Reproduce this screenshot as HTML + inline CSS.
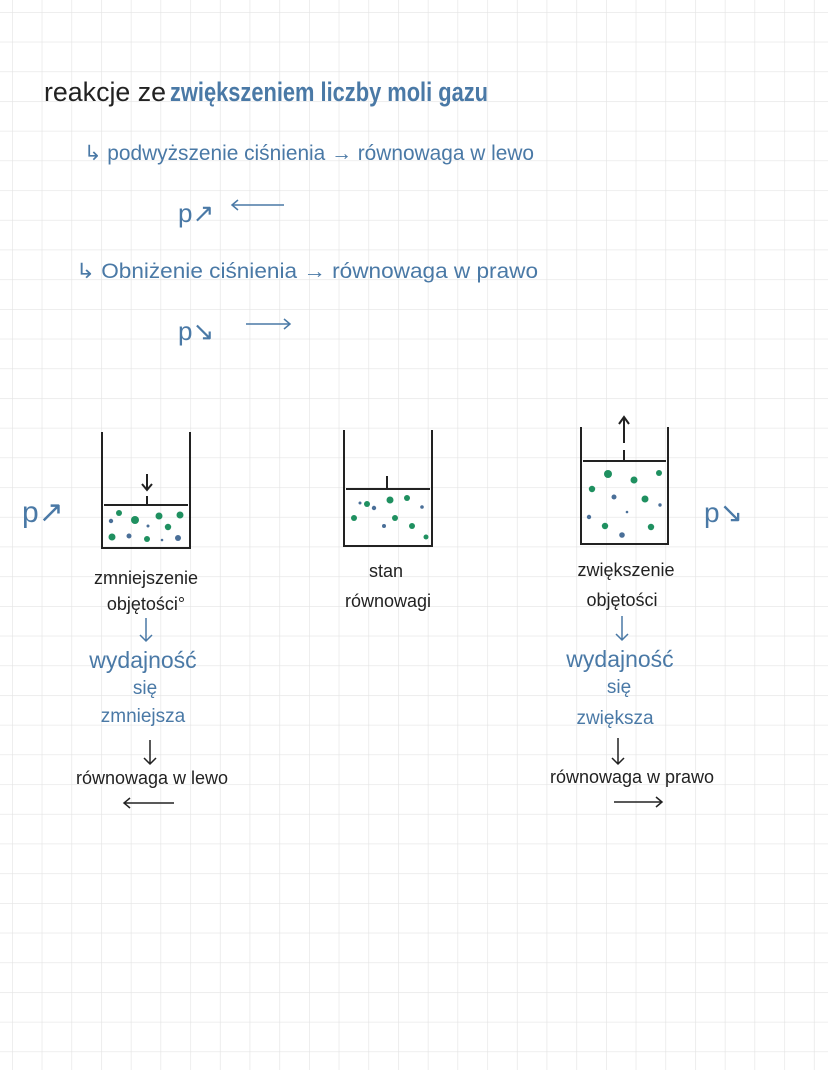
<!DOCTYPE html>
<html><head><meta charset="utf-8"><style>
html,body{margin:0;padding:0;background:#fff}
svg{display:block}
text{font-family:"Liberation Sans",sans-serif}
.b{fill:#4a79a6}
.k{fill:#222}
</style></head><body>
<svg width="828" height="1070" viewBox="0 0 828 1070" xmlns="http://www.w3.org/2000/svg">
<defs>
<pattern id="g" x="12" y="12" width="29.7" height="29.7" patternUnits="userSpaceOnUse">
<path d="M0 0H29.7M0 0V29.7" stroke="#e4e4e4" stroke-width="1.3" fill="none"/>
</pattern>
</defs>
<rect width="828" height="1070" fill="#fff"/>
<rect width="828" height="1070" fill="url(#g)"/>

<text x="44" y="101" font-size="27" class="k" textLength="122" lengthAdjust="spacingAndGlyphs">reakcje ze</text>
<text x="170" y="101" font-size="27" class="b" font-weight="bold" textLength="318" lengthAdjust="spacingAndGlyphs">zwiększeniem liczby moli gazu</text>

<text x="84" y="160" font-size="21" class="b" textLength="450" lengthAdjust="spacingAndGlyphs">↳ podwyższenie ciśnienia → równowaga w lewo</text>
<text x="178" y="222" font-size="26" class="b">p↗</text>
<path d="M232 205H284" stroke="#4a79a6" stroke-width="1.5"/><path d="M238 200L232 205L238 210" stroke="#4a79a6" stroke-width="1.5" fill="none"/>

<text x="76" y="278" font-size="21" class="b" textLength="462" lengthAdjust="spacingAndGlyphs">↳ Obniżenie ciśnienia → równowaga  w  prawo</text>
<text x="178" y="340" font-size="26" class="b">p↘</text>
<path d="M246 324H290" stroke="#4a79a6" stroke-width="1.5"/><path d="M284 319L290 324L284 329" stroke="#4a79a6" stroke-width="1.5" fill="none"/>

<text x="22" y="522" font-size="30" class="b">p↗</text>
<text x="704" y="522" font-size="28" class="b">p↘</text>

<g stroke="#222" stroke-width="2" fill="none">
<path d="M102 432V548H190V432"/><path d="M104 505H188"/><path d="M147 505V496"/><path d="M147 474V490M142 484L147 490L152 484"/>
<path d="M344 430V546H432V430"/><path d="M346 489H430"/><path d="M387 489V476"/>
<path d="M581 427V544H668V427"/><path d="M583 461H666"/><path d="M624 461V450"/><path d="M624 443V418M619 424L624 417L629 424"/>
</g>
<g fill="#1f9060">
<circle cx="119" cy="513" r="3"/><circle cx="135" cy="520" r="4"/><circle cx="159" cy="516" r="3.5"/><circle cx="180" cy="515" r="3.5"/><circle cx="112" cy="537" r="3.5"/><circle cx="147" cy="539" r="3"/><circle cx="168" cy="527" r="3.2"/>
<circle cx="390" cy="500" r="3.5"/><circle cx="407" cy="498" r="3"/><circle cx="354" cy="518" r="3"/><circle cx="367" cy="504" r="3"/><circle cx="395" cy="518" r="3"/><circle cx="412" cy="526" r="3"/><circle cx="426" cy="537" r="2.5"/>
<circle cx="608" cy="474" r="4"/><circle cx="634" cy="480" r="3.5"/><circle cx="659" cy="473" r="3"/><circle cx="592" cy="489" r="3.2"/><circle cx="645" cy="499" r="3.5"/><circle cx="605" cy="526" r="3.2"/><circle cx="651" cy="527" r="3.2"/>
</g>
<g fill="#4a6f98">
<circle cx="111" cy="521" r="2.2"/><circle cx="129" cy="536" r="2.5"/><circle cx="178" cy="538" r="3"/><circle cx="148" cy="526" r="1.5"/><circle cx="162" cy="540" r="1.3"/>
<circle cx="374" cy="508" r="2.2"/><circle cx="384" cy="526" r="2"/><circle cx="422" cy="507" r="1.8"/><circle cx="360" cy="503" r="1.5"/>
<circle cx="614" cy="497" r="2.5"/><circle cx="660" cy="505" r="1.7"/><circle cx="589" cy="517" r="2.2"/><circle cx="622" cy="535" r="2.8"/><circle cx="627" cy="512" r="1.3"/>
</g>

<text x="146" y="584" font-size="18" class="k" text-anchor="middle">zmniejszenie</text>
<text x="146" y="610" font-size="18" class="k" text-anchor="middle">objętości°</text>
<path d="M146 618V641M140 635L146 641L152 635" stroke="#4a79a6" stroke-width="1.5" fill="none"/>
<text x="143" y="668" font-size="23" class="b" text-anchor="middle">wydajność</text>
<text x="145" y="694" font-size="19" class="b" text-anchor="middle">się</text>
<text x="143" y="722" font-size="19" class="b" text-anchor="middle">zmniejsza</text>
<path d="M150 740V764M144 758L150 764L156 758" stroke="#222" stroke-width="1.5" fill="none"/>
<text x="152" y="784" font-size="18" class="k" text-anchor="middle">równowaga w lewo</text>
<path d="M124 803H174M130 798L124 803L130 808" stroke="#222" stroke-width="1.5" fill="none"/>

<text x="386" y="577" font-size="18" class="k" text-anchor="middle">stan</text>
<text x="388" y="607" font-size="18" class="k" text-anchor="middle">równowagi</text>

<text x="626" y="576" font-size="18" class="k" text-anchor="middle">zwiększenie</text>
<text x="622" y="606" font-size="18" class="k" text-anchor="middle">objętości</text>
<path d="M622 616V640M616 634L622 640L628 634" stroke="#4a79a6" stroke-width="1.5" fill="none"/>
<text x="620" y="667" font-size="23" class="b" text-anchor="middle">wydajność</text>
<text x="619" y="693" font-size="19" class="b" text-anchor="middle">się</text>
<text x="615" y="724" font-size="19" class="b" text-anchor="middle">zwiększa</text>
<path d="M618 738V764M612 758L618 764L624 758" stroke="#222" stroke-width="1.5" fill="none"/>
<text x="632" y="783" font-size="18" class="k" text-anchor="middle">równowaga  w  prawo</text>
<path d="M614 802H662M656 797L662 802L656 807" stroke="#222" stroke-width="1.5" fill="none"/>
</svg>
</body></html>
